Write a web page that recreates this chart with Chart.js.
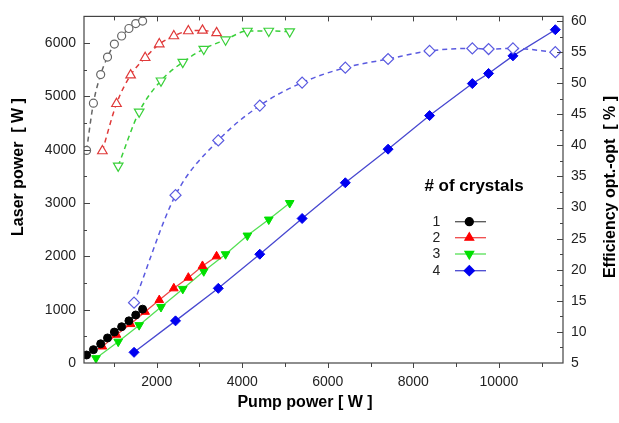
<!DOCTYPE html>
<html>
<head>
<meta charset="utf-8">
<script src="https://cdn.jsdelivr.net/npm/chart.js@4"></script>
<style>
  html, body { margin: 0; padding: 0; background: #fff; }
  #wrap { width: 619px; height: 423px; }
</style>
</head>
<body>
<div id="wrap"><canvas id="chart" width="619" height="423"></canvas></div>
<script>
/* ============ DATA ============ */
const pump1 = [360, 520, 690, 850, 1010, 1180, 1350, 1510, 1670];
const laser1 = [150, 250, 360, 470, 580, 680, 790, 900, 1010];
const eff1 = [39.2, 46.8, 51.4, 54.2, 56.3, 57.6, 58.8, 59.6, 60.0];

const pump2 = [730, 1060, 1390, 1730, 2060, 2400, 2740, 3070, 3400];
const laser2 = [310, 530, 730, 960, 1180, 1400, 1600, 1820, 2000];
const eff2 = [39.1, 46.7, 51.3, 54.1, 56.3, 57.6, 58.4, 58.5, 58.1];

const pump3 = [580, 1100, 1590, 2100, 2610, 3100, 3610, 4120, 4620, 5110];
const laser3 = [90, 400, 710, 1050, 1390, 1720, 2040, 2390, 2690, 3000];
const eff3 = [null, 36.7, 45.4, 50.4, 53.4, 55.5, 57.0, 58.4, 58.4, 58.3];

const pump4 = [1470, 2440, 3440, 4410, 5400, 6410, 7410, 8380, 9380, 9760, 10330, 11320];
const laser4 = [200, 790, 1400, 2040, 2710, 3380, 4010, 4640, 5240, 5430, 5760, 6250];
const eff4 = [14.7, 32.0, 40.8, 46.4, 50.1, 52.5, 53.9, 55.2, 55.6, 55.5, 55.6, 55.0];

const crystals = ['1', '2', '3', '4'];
const xTicks = [2000, 4000, 6000, 8000, 10000];
const yTicks = [0, 1000, 2000, 3000, 4000, 5000, 6000];
const y2Ticks = [5, 10, 15, 20, 25, 30, 35, 40, 45, 50, 55, 60];

/* ============ STYLE ============ */
const FONT = "'Liberation Sans', Arial, sans-serif";
const TXT = '#222';
const lineCol = ['#555555', '#f04848', '#55e055', '#4848d0'];
const markCol = ['#000000', '#ff0000', '#00e000', '#0000f0'];
const openCol = ['#666666', '#e03a3a', '#3ad03a', '#5a5ae0'];
const styles = [
  { style: 'circle', r: 4, rot: 0 },
  { style: 'triangle', r: 5, rot: 0 },
  { style: 'triangle', r: 5, rot: 180 },
  { style: 'rectRot', r: 5, rot: 0 }
];

const xy = (xs, ys) => xs.map((x, i) => ({ x, y: ys[i] }));
const plain = v => String(v);

const pumps = [pump1, pump2, pump3, pump4];
const lasers = [laser1, laser2, laser3, laser4];
const effs = [eff1, eff2, eff3, eff4];

const datasets = [];
for (let i = 0; i < 4; i++) {
  const s = styles[i];
  datasets.push({
    label: 'eff ' + crystals[i],
    data: xy(pumps[i], effs[i]),
    yAxisID: 'y2',
    borderColor: openCol[i],
    borderWidth: 1.5,
    borderDash: [5, 4],
    backgroundColor: '#fff',
    pointBackgroundColor: '#fff',
    pointBorderColor: openCol[i],
    pointBorderWidth: 1.2,
    pointStyle: s.style,
    pointRadius: s.r === 4 ? 4 : s.r + 0.5,
    pointRotation: s.rot,
    cubicInterpolationMode: 'monotone',
    fill: false
  });
}
for (let i = 0; i < 4; i++) {
  const s = styles[i];
  datasets.push({
    label: crystals[i],
    data: xy(pumps[i], lasers[i]),
    yAxisID: 'y',
    borderColor: lineCol[i],
    borderWidth: 1.3,
    backgroundColor: markCol[i],
    pointBackgroundColor: markCol[i],
    pointBorderColor: markCol[i],
    pointBorderWidth: 1,
    pointStyle: s.style,
    pointRadius: s.r,
    pointRotation: s.rot,
    tension: 0,
    fill: false
  });
}

/* ============ FRAME, TICKS, TITLES, LEGEND ============ */
const decor = {
  id: 'decor',
  afterDraw(chart) {
    const { ctx, chartArea: a, scales } = chart;
    ctx.save();
    ctx.strokeStyle = '#444';
    ctx.lineWidth = 1.2;
    ctx.strokeRect(a.left, a.top, a.right - a.left, a.bottom - a.top);

    ctx.lineWidth = 1;
    // x ticks: bottom outward, top inward
    for (let v = 1000; v <= 11000; v += 1000) {
      const px = Math.round(scales.x.getPixelForValue(v)) + 0.5;
      const len = v % 2000 === 0 ? 5 : 4;
      ctx.beginPath();
      ctx.moveTo(px, a.bottom); ctx.lineTo(px, a.bottom + len);
      ctx.moveTo(px, a.top); ctx.lineTo(px, a.top + len);
      ctx.stroke();
    }
    // left ticks inward
    for (let v = 500; v <= 6500; v += 500) {
      const py = Math.round(scales.y.getPixelForValue(v)) + 0.5;
      const len = v % 1000 === 0 ? 6 : 3;
      ctx.beginPath();
      ctx.moveTo(a.left, py); ctx.lineTo(a.left + len, py);
      ctx.stroke();
    }
    // right ticks inward
    for (let v = 7.5; v <= 60; v += 2.5) {
      const py = Math.round(scales.y2.getPixelForValue(v)) + 0.5;
      const len = v % 5 === 0 ? 6 : 3;
      ctx.beginPath();
      ctx.moveTo(a.right, py); ctx.lineTo(a.right - len, py);
      ctx.stroke();
    }

    // axis titles
    ctx.fillStyle = '#000';
    ctx.textAlign = 'center';
    ctx.textBaseline = 'middle';
    ctx.font = 'bold 16px ' + FONT;
    ctx.fillText('Pump power [ W ]', 305, 403);
    ctx.save();
    ctx.translate(19, 167);
    ctx.rotate(-Math.PI / 2);
    ctx.fillText('Laser power  [ W ]', 0, 0);
    ctx.restore();
    ctx.save();
    ctx.translate(611, 187);
    ctx.rotate(-Math.PI / 2);
    ctx.fillText('Efficiency opt.-opt  [ % ]', 0, 0);
    ctx.restore();

    // legend
    ctx.font = 'bold 17px ' + FONT;
    ctx.fillText('# of crystals', 474, 186);
    const rows = [221.7, 237.7, 254, 270.7];
    ctx.font = '14px ' + FONT;
    for (let i = 0; i < 4; i++) {
      const y = rows[i];
      ctx.fillStyle = TXT;
      ctx.fillText(crystals[i], 436.5, y);
      ctx.strokeStyle = lineCol[i];
      ctx.lineWidth = 1.3;
      ctx.beginPath();
      ctx.moveTo(455, y); ctx.lineTo(486, y);
      ctx.stroke();
      ctx.fillStyle = markCol[i];
      ctx.strokeStyle = markCol[i];
      Chart.helpers.drawPoint(ctx, {
        pointStyle: styles[i].style,
        radius: styles[i].r,
        rotation: styles[i].rot,
        borderWidth: 1
      }, 469.3, y);
    }
    ctx.restore();
  }
};

/* ============ CHART ============ */
new Chart(document.getElementById('chart'), {
  type: 'line',
  data: { datasets },
  options: {
    responsive: false,
    animation: false,
    layout: { padding: { top: 9, left: 0, right: 0, bottom: 0 } },
    plugins: { legend: { display: false }, tooltip: { enabled: false } },
    scales: {
      x: {
        type: 'linear', position: 'bottom', min: 300, max: 11500,
        afterBuildTicks: s => { s.ticks = xTicks.map(v => ({ value: v })); },
        afterFit: s => { s.height = 60; },
        grid: { display: false, drawTicks: false },
        border: { display: false },
        ticks: { font: { family: FONT, size: 14 }, color: TXT, padding: 11, maxRotation: 0, callback: plain }
      },
      y: {
        type: 'linear', position: 'left', min: 0, max: 6500,
        afterBuildTicks: s => { s.ticks = yTicks.map(v => ({ value: v })); },
        afterFit: s => { s.width = 84; },
        grid: { display: false, drawTicks: false },
        border: { display: false },
        ticks: { font: { family: FONT, size: 14 }, color: TXT, padding: 8, callback: plain }
      },
      y2: {
        type: 'linear', position: 'right', min: 5, max: 60.75,
        afterBuildTicks: s => { s.ticks = y2Ticks.map(v => ({ value: v })); },
        afterFit: s => { s.width = 56; },
        grid: { display: false, drawTicks: false },
        border: { display: false },
        ticks: { font: { family: FONT, size: 14 }, color: TXT, padding: 8, callback: plain }
      }
    }
  },
  plugins: [decor]
});
</script>
</body>
</html>
